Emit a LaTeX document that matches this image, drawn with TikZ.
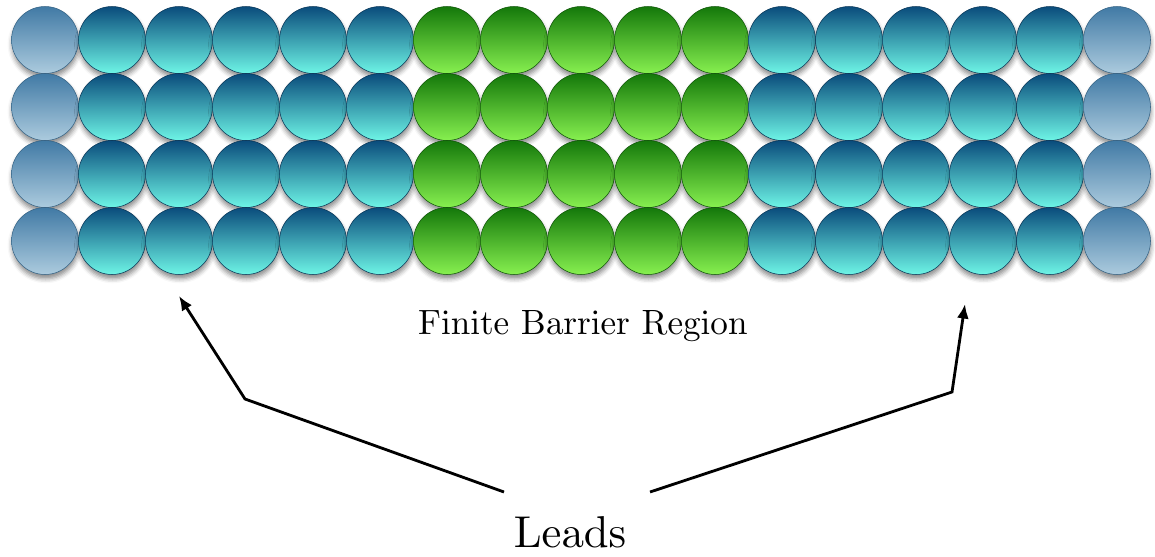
\documentclass[tikz,border=0pt]{standalone}
\usetikzlibrary{arrows.meta, shadows.blur}

\definecolor{wiretop}{RGB}{10,76,124}
\definecolor{wiremid}{RGB}{40,150,170}
\definecolor{wirebot}{RGB}{110,245,230}
\definecolor{bartop}{RGB}{20,120,10}
\definecolor{barmid}{RGB}{80,180,40}
\definecolor{barbot}{RGB}{135,240,80}
\definecolor{leadtop}{RGB}{65,122,165}
\definecolor{leadmid}{RGB}{110,160,195}
\definecolor{leadbot}{RGB}{172,203,222}

% scaled cmr10 for the labels
\font\regionfnt=cmr10 at 20pt
\font\leadsfnt=cmr10 at 25.4pt

\begin{document}
\begin{tikzpicture}[
    x=0.02cm, y=-0.02cm,
    ball/.style={circle, minimum size=1.34cm, inner sep=0pt, line width=0.3pt,
      blur shadow={shadow xshift=0.3pt, shadow yshift=-2.5pt,
        shadow blur radius=2.5pt, shadow opacity=45}},
    wire ball/.style={ball, draw=wiretop!70!black, top color=wiretop,
      middle color=wiremid, bottom color=wirebot},
    barrier ball/.style={ball, draw=bartop!70!black, top color=bartop,
      middle color=barmid, bottom color=barbot},
    lead ball/.style={ball, draw=leadtop!80!black, top color=leadtop,
      middle color=leadmid, bottom color=leadbot},
    pointer/.style={-{Latex[length=2.9mm, width=2.4mm]}, line width=1.6pt,
      line join=miter}
  ]
  \useasboundingbox (0,0) rectangle (1155,557);

  % ---- 17 x 4 lattice: leads on both sides, barrier in the middle ----
  \foreach \r in {0,...,3}
    \foreach \c in {0,...,16} {
      \def\kind{wire}
      \ifnum\c=0 \def\kind{lead}\fi
      \ifnum\c=16 \def\kind{lead}\fi
      \ifnum\c>5 \ifnum\c<11 \def\kind{barrier}\fi\fi
      \node[\kind\space ball] (b-\c-\r) at ({45+67*\c}, {40+67*\r}) {};
    }

  % ---- labels ----
  \node[font=\regionfnt, anchor=base] (region) at (583,334)
    {Finite Barrier Region};
  \node[font=\leadsfnt, anchor=base] (leads) at (570,547)
    {Leads};

  % ---- pointers from the label to both leads ----
  \coordinate (leads-l) at (504,492);
  \coordinate (leads-r) at (650,492);
  \coordinate (bend-l)  at (245,399);
  \coordinate (bend-r)  at (952,392);
  \coordinate (tip-l)   at (179,296);
  \coordinate (tip-r)   at (965,304);
  \draw[pointer] (leads-l) -- (bend-l) -- (tip-l);
  \draw[pointer] (leads-r) -- (bend-r) -- (tip-r);
\end{tikzpicture}
\end{document}
